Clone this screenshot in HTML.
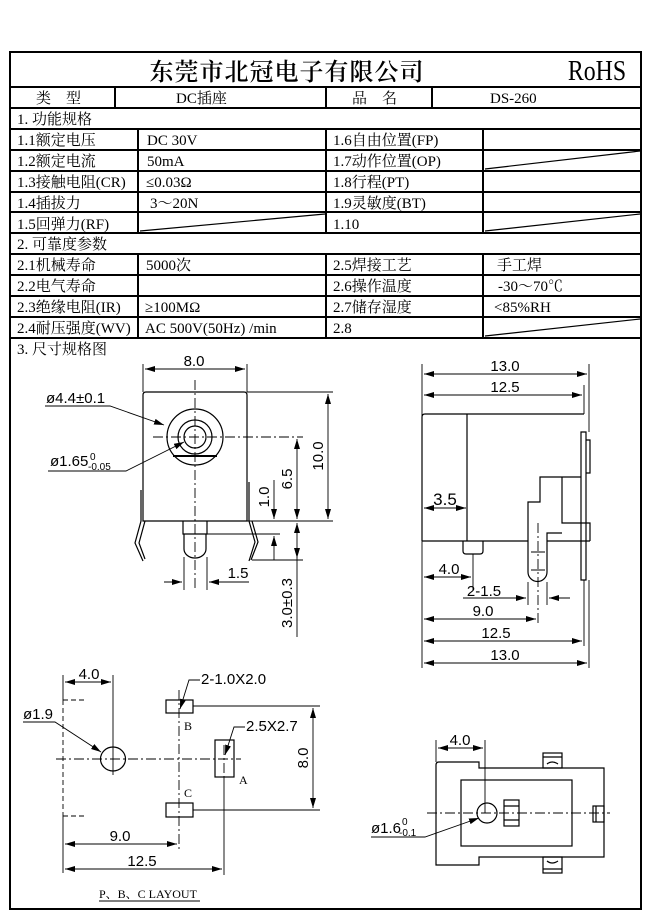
<!DOCTYPE html>
<html><head><meta charset="utf-8"><style>
html,body{margin:0;padding:0;background:#fff}
svg{display:block}
.t{font-family:"Liberation Serif","Noto Serif CJK SC",serif;font-size:15px;fill:#000}
.d{font-family:"Liberation Sans",sans-serif;font-size:15px;fill:#000}
</style></head><body>
<svg width="650" height="919" viewBox="0 0 650 919" xmlns="http://www.w3.org/2000/svg">
<defs>
<marker id="a" viewBox="0 0 10 6" refX="10" refY="3" markerWidth="10" markerHeight="6" orient="auto-start-reverse" markerUnits="userSpaceOnUse"><path d="M0,0 L10,3 L0,6 z" fill="#000"/></marker>
</defs>
<rect width="650" height="919" fill="#fff"/>
<g stroke="#000" stroke-width="2" fill="none">
<rect x="10" y="52" width="631" height="857"/>
<path d="M10,87H641M10,108H641M10,129H641M10,150H641M10,171H641M10,192H641M10,212H641M10,233H641M10,254H641M10,275H641M10,296H641M10,317H641M10,338H641"/>
<path d="M115,87V108M326,87V108M432,87V108"/>
<path d="M138,129V233M326,129V233M483,129V233M138,254V338M326,254V338M483,254V338"/>
</g>
<g stroke="#000" stroke-width="1.2">
<path d="M485,169L640,151M140,231L325,214M485,231L640,214M485,336L640,319"/>
</g>
<text x="287" y="80" text-anchor="middle" style="font-family:'Noto Serif CJK SC',serif;font-size:24px;font-weight:600" letter-spacing="1">东莞市北冠电子有限公司</text>
<text x="597" y="80" text-anchor="middle" style="font-family:'Liberation Serif',serif;font-size:28px" transform="translate(597 0) scale(0.85 1) translate(-597 0)">RoHS</text>
<g class="t">
<text x="36" y="103">类　型</text>
<text x="176" y="103">DC插座</text>
<text x="352" y="103">品　名</text>
<text x="490" y="103">DS-260</text>
<text x="17" y="124">1. 功能规格</text>
<text x="17" y="145">1.1额定电压</text><text x="147" y="145">DC 30V</text><text x="333" y="145">1.6自由位置(FP)</text>
<text x="17" y="166">1.2额定电流</text><text x="147" y="166">50mA</text><text x="333" y="166">1.7动作位置(OP)</text>
<text x="17" y="187">1.3接触电阻(CR)</text><text x="146" y="187">≤0.03Ω</text><text x="333" y="187">1.8行程(PT)</text>
<text x="17" y="208">1.4插拔力</text><text x="150" y="208">3～20N</text><text x="333" y="208">1.9灵敏度(BT)</text>
<text x="17" y="229">1.5回弹力(RF)</text><text x="333" y="229">1.10</text>
<text x="17" y="249">2. 可靠度参数</text>
<text x="17" y="270">2.1机械寿命</text><text x="146" y="270">5000次</text><text x="333" y="270">2.5焊接工艺</text><text x="497" y="270">手工焊</text>
<text x="17" y="291">2.2电气寿命</text><text x="333" y="291">2.6操作温度</text><text x="498" y="291">-30～70℃</text>
<text x="17" y="312">2.3绝缘电阻(IR)</text><text x="145" y="312">≥100MΩ</text><text x="333" y="312">2.7储存湿度</text><text x="494" y="312">&lt;85%RH</text>
<text x="17" y="333">2.4耐压强度(WV)</text><text x="145" y="333">AC 500V(50Hz) /min</text><text x="333" y="333">2.8</text>
<text x="17" y="354">3. 尺寸规格图</text>
</g>
<g stroke="#000" stroke-width="1.2" fill="none">
<path d="M143,521V395Q143,392 146,392H244Q247,392 247,395V521Z"/>
<circle cx="195" cy="437" r="28"/><circle cx="195" cy="437" r="17"/><circle cx="195" cy="437" r="11"/>
<path d="M173,456H217" stroke-width="2"/>
<path d="M183,521V534H207V521M184,534V549A11,9 0 0 0 206,549V534"/>
<path d="M141,490V521L135,543L143,561M145,521L139,543L145,559"/>
<path d="M249,482V521L255,542L249,561M252,521L258,542L251,560"/>
</g>
<g stroke="#000" stroke-width="0.9" fill="none">
<path d="M153,437H303M195,380V590" stroke-dasharray="10,3,2,3"/>
<path d="M143,364V392M247,364V392"/>
<path d="M145,369H245" marker-start="url(#a)" marker-end="url(#a)"/>
<path d="M247,392H333M247,521H333M303,437H297M207,534H280M252,560H303M184,557V590M207,557V590"/>
<path d="M328,394V519" marker-start="url(#a)" marker-end="url(#a)"/>
<path d="M297,439V519" marker-start="url(#a)" marker-end="url(#a)"/>
<path d="M297,523V637" marker-start="url(#a)"/><path d="M297,548V558" marker-end="url(#a)"/>
<path d="M274,480V519" marker-end="url(#a)"/><path d="M274,560V536" marker-end="url(#a)"/>
<path d="M164,582H182" marker-end="url(#a)"/><path d="M249,582H209" marker-end="url(#a)"/>
<path d="M45,406H110L164,425" marker-end="url(#a)"/>
<path d="M48,471H126L184,442" marker-end="url(#a)"/>
</g>
<g class="d">
<text x="194" y="366" text-anchor="middle">8.0</text>
<text x="46" y="403">ø4.4±0.1</text>
<text x="50" y="466">ø1.65</text><text x="90" y="460" style="font-size:10px">0</text><text x="88" y="470" style="font-size:10px">-0.05</text>
<text x="238" y="578" text-anchor="middle">1.5</text>
<text transform="translate(323 456) rotate(-90)" text-anchor="middle">10.0</text>
<text transform="translate(292 479) rotate(-90)" text-anchor="middle">6.5</text>
<text transform="translate(269 497) rotate(-90)" text-anchor="middle">1.0</text>
<text transform="translate(292 603) rotate(-90)" text-anchor="middle">3.0±0.3</text>
</g>
<g stroke="#000" stroke-width="1.2" fill="none">
<path d="M422,541V417Q422,414 425,414H584M422,541H528M547,541H590"/>
<path d="M467,414V541"/>
<path d="M581,432H586V580H581Z"/><path d="M586,440H590V473H586"/>
<path d="M528,541V502H540V477H581M562,477V523H590V541"/>
<path d="M528,541V572A9.5,9.5 0 0 0 547,572V533H562"/>
<path d="M463,541V551Q463,554 466,554H480Q483,554 483,551V541"/>
</g>
<g stroke="#000" stroke-width="0.9" fill="none">
<path d="M538,523V625" stroke-dasharray="10,3,2,3"/>
<path d="M531,552H545M531,570H545"/>
<path d="M422,364V668M589,364V432M584,385V414M589,580V668M584,580V646M473,554V590M528,582V605M547,582V605"/>
<path d="M424,374H587" marker-start="url(#a)" marker-end="url(#a)"/>
<path d="M424,395H582" marker-start="url(#a)" marker-end="url(#a)"/>
<path d="M424,508H466" marker-start="url(#a)" marker-end="url(#a)"/>
<path d="M424,577H471" marker-start="url(#a)" marker-end="url(#a)"/>
<path d="M463,598H526" marker-end="url(#a)"/><path d="M570,598H549" marker-end="url(#a)"/>
<path d="M424,619H536" marker-start="url(#a)" marker-end="url(#a)"/>
<path d="M424,641H582" marker-start="url(#a)" marker-end="url(#a)"/>
<path d="M424,663H587" marker-start="url(#a)" marker-end="url(#a)"/>
</g>
<g class="d">
<text x="505" y="371" text-anchor="middle">13.0</text>
<text x="505" y="392" text-anchor="middle">12.5</text>
<text x="445" y="505" text-anchor="middle" style="font-size:17px">3.5</text>
<text x="449" y="574" text-anchor="middle">4.0</text>
<text x="484" y="596" text-anchor="middle">2-1.5</text>
<text x="483" y="616" text-anchor="middle">9.0</text>
<text x="496" y="638" text-anchor="middle">12.5</text>
<text x="505" y="660" text-anchor="middle">13.0</text>
</g>
<g stroke="#000" stroke-width="1.2" fill="none">
<ellipse cx="113" cy="759" rx="12.5" ry="12"/>
<rect x="166" y="700" width="27" height="13"/>
<rect x="166" y="803" width="27" height="14"/>
<rect x="215" y="740" width="19" height="37"/>
</g>
<g stroke="#000" stroke-width="0.9" fill="none">
<path d="M63,700V816M63,700H85M63,816H85" stroke-dasharray="5,3"/>
<path d="M56,759H241M179,690V850M224,745V777" stroke-dasharray="10,3,2,3"/>
<path d="M63,675V700M63,816V873M113,675V775M224,777V875M193,706H320M193,810H320"/>
<path d="M65,682H111" marker-start="url(#a)" marker-end="url(#a)"/>
<path d="M313,708V808" marker-start="url(#a)" marker-end="url(#a)"/>
<path d="M65,844H177" marker-start="url(#a)" marker-end="url(#a)"/>
<path d="M65,869H222" marker-start="url(#a)" marker-end="url(#a)"/>
<path d="M23,722H55L101,752" marker-end="url(#a)"/>
<path d="M200,680H189L180,709" marker-end="url(#a)"/>
<path d="M245,727H234L225,755" marker-end="url(#a)"/>
</g>
<g class="d">
<text x="89" y="679" text-anchor="middle">4.0</text>
<text x="23" y="719">ø1.9</text>
<text x="201" y="684">2-1.0X2.0</text>
<text x="246" y="731">2.5X2.7</text>
<text transform="translate(308 758) rotate(-90)" text-anchor="middle">8.0</text>
<text x="120" y="841" text-anchor="middle">9.0</text>
<text x="142" y="866" text-anchor="middle">12.5</text>
</g>
<g class="t" style="font-size:12px">
<text x="184" y="730">B</text><text x="184" y="797">C</text><text x="239" y="784">A</text>
<text x="99" y="898">P、B、C LAYOUT</text>
</g>
<path d="M99,901H200" stroke="#000" stroke-width="1"/>
<g stroke="#000" stroke-width="1.2" fill="none">
<path d="M436,865V765Q436,762 439,762H479V768H604V857H479V865Z"/>
<rect x="461" y="780" width="111" height="66"/>
<circle cx="487" cy="813" r="10"/>
<rect x="504" y="800" width="15" height="26"/><path d="M504,806H519M504,820H519"/>
<rect x="543" y="753" width="19" height="15"/><path d="M543,757H562M547,764Q552,760 558,764"/>
<rect x="543" y="857" width="19" height="16"/><path d="M543,869H562M547,861Q552,865 558,861"/>
<rect x="593" y="806" width="11" height="16"/><path d="M596,806V822"/>
</g>
<g stroke="#000" stroke-width="0.9" fill="none">
<path d="M427,813H610" stroke-dasharray="10,3,2,3"/>
<path d="M436,740V762M485,740V813"/>
<path d="M438,748H483" marker-start="url(#a)" marker-end="url(#a)"/>
<path d="M371,837H425L479,818" marker-end="url(#a)"/>
</g>
<g class="d">
<text x="460" y="745" text-anchor="middle">4.0</text>
<text x="371" y="833">ø1.6</text><text x="402" y="825" style="font-size:10px">0</text><text x="399" y="836" style="font-size:10px">-0.1</text>
</g>
</svg>
</body></html>
